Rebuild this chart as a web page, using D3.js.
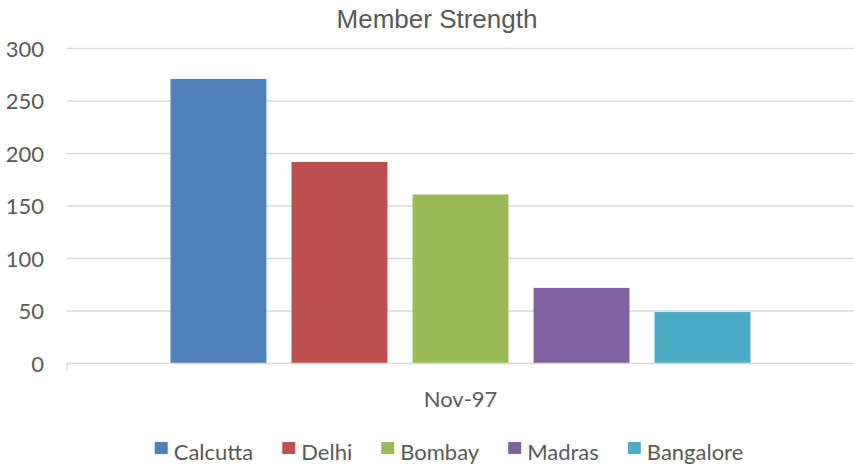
<!DOCTYPE html>
<html>
<head>
<meta charset="utf-8">
<script src="https://cdn.jsdelivr.net/npm/d3@7"></script>
<style>
  body { margin: 0; background: #fff; }
</style>
</head>
<body>
<div id="chart"></div>
<script>
"use strict";

const categories = ["Nov-97"];
const cities = ["Calcutta", "Delhi", "Bombay", "Madras", "Bangalore"];
const values = [271, 192, 161, 72, 49];
const colors = ["#4F81BD", "#C0504D", "#9BBB59", "#8064A2", "#4BACC6"];
const yTicks = [0, 50, 100, 150, 200, 250, 300];

const width = 854;
const height = 465;
const margin = { top: 48.5, right: 0, bottom: 101.5, left: 67 };
const textColor = "#595959";
const font = "Lato, sans-serif";

const svg = d3
  .select("#chart")
  .append("svg")
  .attr("width", width)
  .attr("height", height);

// Define the scales
const x0 = d3
  .scaleBand()
  .domain(categories)
  .range([margin.left, width - margin.right])
  .paddingInner(0)
  .paddingOuter(0.1784);

const x1 = d3
  .scaleBand()
  .domain(cities)
  .range([0, x0.bandwidth()])
  .paddingInner(0.207)
  .paddingOuter(0);

const y = d3
  .scaleLinear()
  .domain([0, 300])
  .range([height - margin.bottom, margin.top]);

// gridlines
svg
  .append("g")
  .selectAll("line")
  .data(yTicks.filter((d) => d > 0))
  .enter()
  .append("line")
  .attr("x1", margin.left)
  .attr("x2", width - margin.right)
  .attr("y1", (d) => y(d))
  .attr("y2", (d) => y(d))
  .attr("stroke", "#d9d9d9")
  .attr("stroke-width", 1.5);

// y axis labels
const yAxis = svg
  .append("g")
  .attr("transform", `translate(${margin.left - 23}, 0)`)
  .call(d3.axisLeft(y).tickValues(yTicks).tickSize(0).tickPadding(0));
yAxis.select(".domain").remove();
yAxis
  .selectAll("text")
  .attr("font-family", font)
  .attr("font-size", "22px")
  .attr("fill", textColor)
  .attr("dy", "0.36em");

// bars
svg
  .append("g")
  .selectAll("rect")
  .data(cities.map((c, i) => ({ city: c, value: values[i], color: colors[i] })))
  .enter()
  .append("rect")
  .attr("x", (d) => x0(categories[0]) + x1(d.city))
  .attr("y", (d) => y(d.value))
  .attr("width", x1.bandwidth())
  .attr("height", (d) => y(0) - y(d.value))
  .attr("fill", (d) => d.color);

// x axis
const xAxis = svg
  .append("g")
  .attr("transform", `translate(0, ${y(0)})`)
  .call(d3.axisBottom(x0).tickSize(0).tickPadding(28));
xAxis.select(".domain").attr("stroke", "#d9d9d9").attr("stroke-width", 1.5)
  .attr("d", `M${margin.left},6V0H${width - margin.right}`);
xAxis
  .selectAll("text")
  .attr("font-family", font)
  .attr("font-size", "22px")
  .attr("fill", textColor);

// title
svg
  .append("text")
  .attr("x", 437)
  .attr("y", 28)
  .attr("text-anchor", "middle")
  .attr("font-family", "'Liberation Sans', Arial, sans-serif")
  .attr("font-size", "26px")
  .attr("fill", textColor)
  .text("Member Strength");

// legend
const gap = 29;
const legend = svg.append("g");
let lx = 0;
cities.forEach((c, i) => {
  const item = legend.append("g").attr("transform", `translate(${lx}, 0)`);
  item
    .append("rect")
    .attr("x", 0)
    .attr("y", -18)
    .attr("width", 13)
    .attr("height", 12)
    .attr("fill", colors[i]);
  const t = item
    .append("text")
    .attr("x", 19)
    .attr("y", 0)
    .attr("font-family", font)
    .attr("font-size", "22px")
    .attr("fill", textColor)
    .text(c);
  lx += 19 + t.node().getComputedTextLength() + gap;
});
const legendWidth = lx - gap;
legend.attr("transform", `translate(${449 - legendWidth / 2}, 460)`);
</script>
</body>
</html>
